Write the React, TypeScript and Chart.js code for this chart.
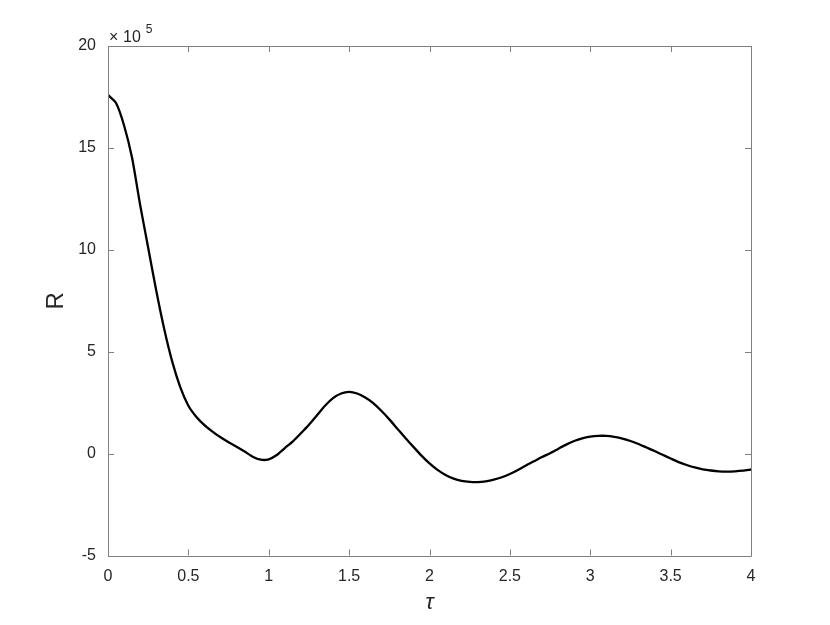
import React, { useEffect, useRef } from "react";
import { Chart, registerables } from "chart.js";

Chart.register(...registerables);

const tau: number[] = [
  0, 0.05, 0.1, 0.15, 0.2, 0.25, 0.3, 0.35, 0.4, 0.45,
  0.5, 0.55, 0.6, 0.65, 0.7, 0.75, 0.8, 0.85, 0.9, 0.95,
  1.0, 1.05, 1.1, 1.15, 1.2, 1.25, 1.3, 1.35, 1.4, 1.45,
  1.5, 1.55, 1.6, 1.65, 1.7, 1.75, 1.8, 1.85, 1.9, 1.95,
  2.0, 2.05, 2.1, 2.15, 2.2, 2.25, 2.3, 2.35, 2.4, 2.45,
  2.5, 2.55, 2.6, 2.65, 2.7, 2.75, 2.8, 2.85, 2.9, 2.95,
  3.0, 3.05, 3.1, 3.15, 3.2, 3.25, 3.3, 3.35, 3.4, 3.45,
  3.5, 3.55, 3.6, 3.65, 3.7, 3.75, 3.8, 3.85, 3.9, 3.95, 4.0,
];

// R values in units of 10^5
const rValues: number[] = [
  17.6, 17.2, 16.1, 14.5, 12.2, 10.1, 8.0, 6.1, 4.5, 3.25,
  2.35, 1.8, 1.4, 1.08, 0.8, 0.56, 0.34, 0.1, -0.15, -0.3,
  -0.28, -0.07, 0.27, 0.6, 1.0, 1.42, 1.88, 2.35, 2.72, 2.95,
  3.03, 2.95, 2.75, 2.48, 2.1, 1.68, 1.22, 0.77, 0.33, -0.1,
  -0.48, -0.8, -1.05, -1.23, -1.34, -1.39, -1.4, -1.36, -1.28, -1.16,
  -1.0, -0.8, -0.58, -0.38, -0.17, 0.02, 0.23, 0.44, 0.62, 0.75,
  0.83, 0.87, 0.87, 0.82, 0.74, 0.62, 0.47, 0.3, 0.13, -0.06,
  -0.24, -0.42, -0.56, -0.68, -0.77, -0.83, -0.87, -0.88, -0.87, -0.84, -0.78,
];

const xTicks: number[] = [0, 0.5, 1, 1.5, 2, 2.5, 3, 3.5, 4];
const yTicks: number[] = [-5, 0, 5, 10, 15, 20];
const exponentLabel = "5";
const xTitle = "\u03c4";
const yTitle = "R";

const FONT = "'Liberation Sans', Arial, Helvetica, sans-serif";
const AXIS_COLOR = "#808080";
const TEXT_COLOR = "#262626";

const boxPlugin = {
  id: "matlabBox",
  afterDatasetsDraw(chart: any) {
    const { ctx, chartArea } = chart;
    const { left, right, top, bottom } = chartArea;
    const xs = chart.scales.x;
    const ys = chart.scales.y;
    ctx.save();
    ctx.strokeStyle = AXIS_COLOR;
    ctx.lineWidth = 1;
    ctx.beginPath();
    ctx.rect(Math.round(left) + 0.5, Math.round(top) + 0.5, Math.round(right - left), Math.round(bottom - top));
    ctx.stroke();
    const tl = 6;
    ctx.beginPath();
    xTicks.forEach((v) => {
      const px = Math.round(xs.getPixelForValue(v)) + 0.5;
      ctx.moveTo(px, bottom);
      ctx.lineTo(px, bottom - tl);
      ctx.moveTo(px, top);
      ctx.lineTo(px, top + tl);
    });
    yTicks.forEach((v) => {
      const py = Math.round(ys.getPixelForValue(v)) + 0.5;
      ctx.moveTo(left, py);
      ctx.lineTo(left + tl, py);
      ctx.moveTo(right, py);
      ctx.lineTo(right - tl, py);
    });
    ctx.stroke();
    // exponent label
    ctx.fillStyle = TEXT_COLOR;
    ctx.textBaseline = "alphabetic";
    ctx.textAlign = "left";
    ctx.font = `16px ${FONT}`;
    ctx.fillText("\u00d7", left + 1, top - 4);
    ctx.fillText("10", left + 15, top - 4);
    const w10 = ctx.measureText("10").width;
    ctx.font = `12px ${FONT}`;
    ctx.fillText(exponentLabel, left + 15 + w10 + 5, top - 13);
    // axis titles
    ctx.textAlign = "center";
    ctx.textBaseline = "middle";
    ctx.font = `italic 22px ${FONT}`;
    ctx.fillText(xTitle, (left + right) / 2, 603);
    ctx.save();
    ctx.translate(56, (top + bottom) / 2);
    ctx.rotate(-Math.PI / 2);
    ctx.font = `24px ${FONT}`;
    ctx.fillText(yTitle, 0, 0);
    ctx.restore();
    ctx.restore();
  },
};

export default function App() {
  const ref = useRef<HTMLCanvasElement | null>(null);
  useEffect(() => {
    if (!ref.current) return;
    const chart = new Chart(ref.current, {
      type: "line",
      data: {
        datasets: [
          {
            data: tau.map((t, i) => ({ x: t, y: rValues[i] })),
            borderColor: "#000000",
            borderWidth: 2.3,
            pointRadius: 0,
            tension: 0.2,
            fill: false,
          },
        ],
      },
      options: {
        animation: false,
        responsive: false,
        maintainAspectRatio: false,
        events: [],
        layout: { padding: { top: 46, right: 79, left: 0, bottom: 0 } },
        plugins: { legend: { display: false }, tooltip: { enabled: false } },
        scales: {
          x: {
            type: "linear",
            min: 0,
            max: 4,
            afterFit: (s: any) => {
              s.height = 69.5;
            },
            afterBuildTicks: (s: any) => {
              s.ticks = xTicks.map((v) => ({ value: v }));
            },
            grid: { display: false, drawTicks: false },
            border: { display: false },
            ticks: {
              color: TEXT_COLOR,
              font: { family: FONT, size: 16 },
              padding: 11,
              maxRotation: 0,
              callback: (v: any) => String(v),
            },
          },
          y: {
            type: "linear",
            min: -5,
            max: 20,
            afterFit: (s: any) => {
              s.width = 108;
            },
            afterBuildTicks: (s: any) => {
              s.ticks = yTicks.map((v) => ({ value: v }));
            },
            grid: { display: false, drawTicks: false },
            border: { display: false },
            ticks: {
              color: TEXT_COLOR,
              font: { family: FONT, size: 16 },
              padding: 12,
              callback: (v: any) => String(v),
            },
          },
        },
      },
      plugins: [boxPlugin],
    });
    return () => chart.destroy();
  }, []);
  return (
    <div style={{ position: "absolute", left: 0, top: 0, width: 830, height: 625, background: "#fff" }}>
      <canvas ref={ref} width={830} height={625} style={{ display: "block", width: 830, height: 625 }} />
    </div>
  );
}
